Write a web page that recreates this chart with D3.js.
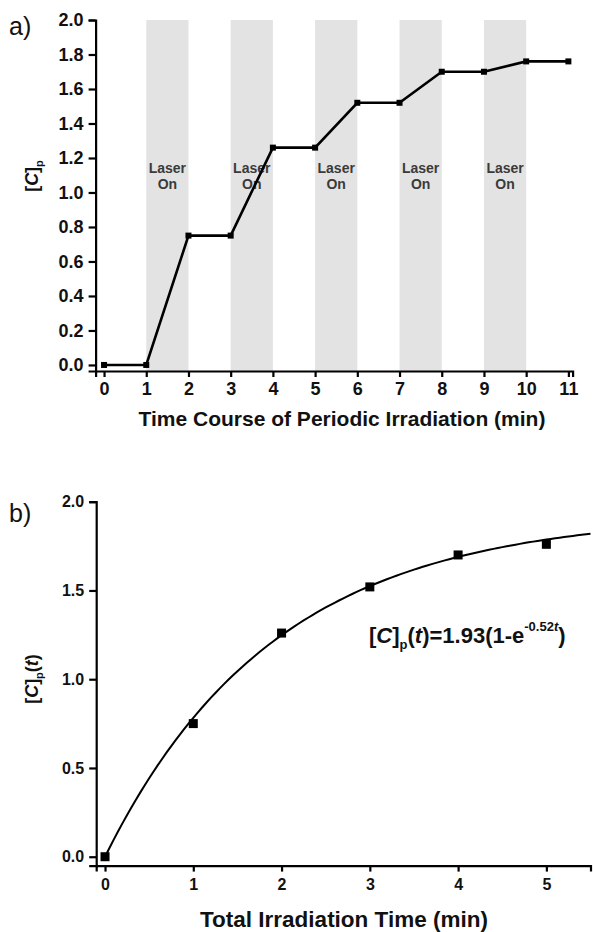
<!DOCTYPE html>
<html><head><meta charset="utf-8">
<script src="https://cdn.jsdelivr.net/npm/d3@7/dist/d3.min.js"></script>
<style>
html,body{margin:0;padding:0;background:#fff;}
svg{display:block;font-family:"Liberation Sans",Arial,sans-serif;}
</style></head>
<body><svg id="c" width="593" height="932"></svg>
<script>
// ---- data ----
const timeA = [0,1,2,3,4,5,6,7,8,9,10,11];
const concA = [0,0,0.75,0.75,1.26,1.26,1.52,1.52,1.70,1.70,1.76,1.76];
const laserStart = [1,3,5,7,9];
const laserEnd = [2,4,6,8,10];
const xTicksA = [0,1,2,3,4,5,6,7,8,9,10,11];
const yTicksA = [0,0.2,0.4,0.6,0.8,1.0,1.2,1.4,1.6,1.8,2.0];

const timeB = [0,1,2,3,4,5];
const concB = [0,0.75,1.26,1.52,1.70,1.76];
const fitA = 1.93, fitK = 0.52;
const xTicksB = [0,1,2,3,4,5];
const yTicksB = [0,0.5,1.0,1.5,2.0];

const svg = d3.select("#c");

// ---------- Panel a ----------
const xa = d3.scaleLinear().domain([-0.2,11.1]).range([95.6,572.6]);
const ya = d3.scaleLinear().domain([-0.035,2]).range([371,20]);

const ga = svg.append("g");
ga.selectAll("rect.band").data(laserStart).enter().append("rect")
  .attr("x",(d)=>xa(d)).attr("width",(d,i)=>xa(laserEnd[i])-xa(d))
  .attr("y",ya(2)).attr("height",ya(-0.035)-ya(2))
  .attr("fill","#e3e3e3");

laserStart.forEach((d,i)=>{
  const cx = (xa(d)+xa(laserEnd[i]))/2;
  const t = ga.append("text").attr("text-anchor","middle").attr("font-size",14)
    .attr("font-weight","bold").attr("fill","#3a3a3a");
  t.append("tspan").attr("x",cx).attr("y",173).text("Laser");
  t.append("tspan").attr("x",cx).attr("y",189).text("On");
});

const axA = ga.append("g").attr("transform",`translate(0,${ya(-0.035)})`)
  .call(d3.axisBottom(xa).tickValues(xTicksA).tickSizeOuter(0).tickSize(6).tickFormat(d3.format("d")));
const ayA = ga.append("g").attr("transform",`translate(${xa(-0.2)},0)`)
  .call(d3.axisLeft(ya).tickValues(yTicksA).tickSizeOuter(0).tickSize(7).tickFormat(d3.format(".1f")));
[axA,ayA].forEach(a=>{
  a.attr("font-size",18);
  a.select(".domain").attr("stroke","#000").attr("stroke-width",2.2);
  a.selectAll(".tick line").attr("stroke","#000").attr("stroke-width",2.2);
  a.selectAll(".tick text").attr("font-size",18).attr("font-weight","bold")
   .attr("font-family","'Liberation Sans',Arial,sans-serif").attr("fill","#111");
});
axA.selectAll(".tick text").attr("dy","0.85em");
ayA.selectAll(".tick text").attr("dx","-2px");

ga.append("path").datum(timeA.map((t,i)=>[t,concA[i]]))
  .attr("d",d3.line().x(d=>xa(d[0])).y(d=>ya(d[1])))
  .attr("fill","none").attr("stroke","#000").attr("stroke-width",2.6);
ga.selectAll("rect.pt").data(timeA).enter().append("rect")
  .attr("x",(d)=>xa(d)-3).attr("y",(d,i)=>ya(concA[i])-3)
  .attr("width",6).attr("height",6).attr("fill","#000");

// labels a
svg.append("text").attr("x",9).attr("y",35).attr("font-size",25).attr("fill","#111").text("a)");
const yla = svg.append("text").attr("transform","translate(38,176) rotate(-90)")
  .attr("text-anchor","middle").attr("font-size",18).attr("font-weight","bold").attr("fill","#111");
yla.append("tspan").text("[");
yla.append("tspan").attr("font-style","italic").text("C");
yla.append("tspan").text("]");
yla.append("tspan").attr("font-size",11).attr("dy",5).text("p");
svg.append("text").attr("x",342).attr("y",426).attr("text-anchor","middle")
  .attr("font-size",21).attr("font-weight","bold").attr("fill","#111")
  .text("Time Course of Periodic Irradiation (min)");

// ---------- Panel b ----------
const xb = d3.scaleLinear().domain([-0.1,5.5]).range([96.2,590.5]);
const yb = d3.scaleLinear().domain([-0.05,2]).range([865.6,501.7]);
const gb = svg.append("g");
const axB = gb.append("g").attr("transform",`translate(0,${yb(-0.05)})`)
  .call(d3.axisBottom(xb).tickValues(xTicksB).tickSizeOuter(0).tickSize(6).tickFormat(d3.format("d")));
const ayB = gb.append("g").attr("transform",`translate(${xb(-0.1)},0)`)
  .call(d3.axisLeft(yb).tickValues(yTicksB).tickSizeOuter(0).tickSize(7).tickFormat(d3.format(".1f")));
[axB,ayB].forEach(a=>{
  a.attr("font-size",16);
  a.select(".domain").attr("stroke","#000").attr("stroke-width",2.2);
  a.selectAll(".tick line").attr("stroke","#000").attr("stroke-width",2.2);
  a.selectAll(".tick text").attr("font-size",16).attr("font-weight","bold")
   .attr("font-family","'Liberation Sans',Arial,sans-serif").attr("fill","#111");
});
axB.selectAll(".tick text").attr("dy","0.95em");
ayB.selectAll(".tick text").attr("dx","-2px");

const fitT = d3.range(0,5.501,0.05);
gb.append("path").datum(fitT)
  .attr("d",d3.line().x(t=>xb(t)).y(t=>yb(fitA*(1-Math.exp(-fitK*t)))))
  .attr("fill","none").attr("stroke","#000").attr("stroke-width",2);
gb.selectAll("rect.pt").data(timeB).enter().append("rect")
  .attr("x",(d)=>xb(d)-4.5).attr("y",(d,i)=>yb(concB[i])-4.5)
  .attr("width",9).attr("height",9).attr("fill","#000");

svg.append("text").attr("x",9).attr("y",522).attr("font-size",25).attr("fill","#111").text("b)");
const ylb = svg.append("text").attr("transform","translate(38,679) rotate(-90)")
  .attr("text-anchor","middle").attr("font-size",18).attr("font-weight","bold").attr("fill","#111");
ylb.append("tspan").text("[");
ylb.append("tspan").attr("font-style","italic").text("C");
ylb.append("tspan").text("]");
ylb.append("tspan").attr("font-size",11).attr("dy",5).text("p");
ylb.append("tspan").attr("dy",-5).text("(");
ylb.append("tspan").attr("font-style","italic").text("t");
ylb.append("tspan").text(")");

const ann = svg.append("text").attr("x",369).attr("y",643).attr("font-size",22)
  .attr("font-weight","bold").attr("fill","#111");
ann.append("tspan").text("[");
ann.append("tspan").attr("font-style","italic").text("C");
ann.append("tspan").text("]");
ann.append("tspan").attr("font-size",13).attr("dy",6).text("p");
ann.append("tspan").attr("dy",-6).text("(");
ann.append("tspan").attr("font-style","italic").text("t");
ann.append("tspan").text(")=1.93(1-e");
ann.append("tspan").attr("font-size",13).attr("dy",-12).text("-0.52");
ann.append("tspan").attr("font-size",13).attr("font-style","italic").text("t");
ann.append("tspan").attr("dy",12).text(")");

svg.append("text").attr("x",344).attr("y",927).attr("text-anchor","middle")
  .attr("font-size",22.5).attr("font-weight","bold").attr("fill","#111")
  .text("Total Irradiation Time (min)");
</script></body></html>
